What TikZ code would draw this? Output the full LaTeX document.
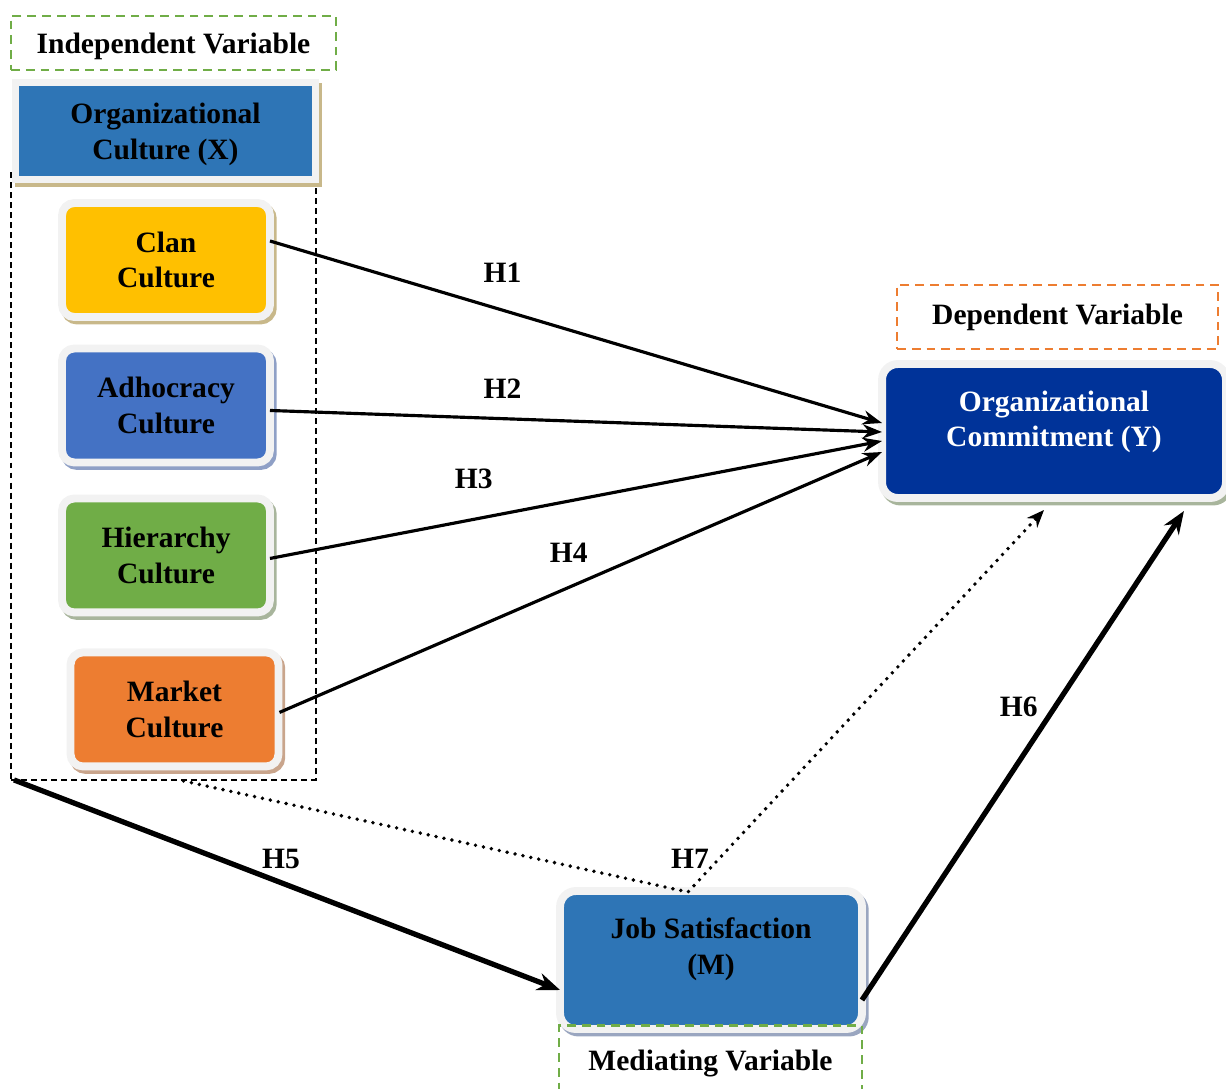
\documentclass[tikz,border=0pt]{standalone}
\usepackage{fontspec}
\setmainfont{Liberation Serif}
\usetikzlibrary{arrows.meta,positioning,calc,shadows}

\definecolor{ocblue}{HTML}{2E75B6}
\definecolor{clanyellow}{HTML}{FFC000}
\definecolor{adhocblue}{HTML}{4472C4}
\definecolor{hiergreen}{HTML}{70AD47}
\definecolor{marketorange}{HTML}{ED7D31}
\definecolor{commitblue}{HTML}{003399}
\definecolor{framegray}{HTML}{F2F2F2}
\definecolor{shtan}{HTML}{C8B88A}
\definecolor{shblue}{HTML}{8FA0C6}
\definecolor{shgreen}{HTML}{A8B59C}
\definecolor{shbrown}{HTML}{C9A58C}
\definecolor{shgray}{HTML}{9AA6C0}

\begin{document}
\begin{tikzpicture}[x=0.02cm, y=-0.02cm,
    every node/.style={font=\bfseries\fontsize{16.8}{20.4}\selectfont, align=center, outer sep=0pt},
    culture/.style 2 args={draw=framegray, fill=#1, line width=4.5pt, rounded corners=7pt,
        minimum width=4.16cm, minimum height=2.28cm,
        general shadow={draw=#2, fill=#2, shadow xshift=1.6pt, shadow yshift=-2pt}},
    varbox/.style={draw=#1, line width=1.4pt, dash pattern=on 5pt off 3.4pt},
    hlabel/.style={inner sep=0pt},
    link/.style={line width=1.8pt, -{Stealth[length=11pt,width=8pt]}},
    strong/.style={line width=3pt, -{Stealth[length=13pt,width=10pt]}},
    dots/.style={line width=2.2pt, line cap=round, dash pattern=on 0pt off 4.6pt,
        -{Stealth[length=10pt,width=8pt]}}]
\useasboundingbox (0,0) rectangle (1226,1088);

% independent side
\node[varbox=hiergreen, minimum width=6.5cm, minimum height=1.08cm, text depth=0pt] (indep) at (173.5,43) {Independent Variable};
\node[draw, line width=1.1pt, dash pattern=on 3.4pt off 2.3pt, minimum width=6.1cm, minimum height=12.2cm] (ivframe) at (163.5,475) {};
\node[draw=framegray, fill=ocblue, line width=4pt, minimum width=6cm, minimum height=1.94cm, text depth=0pt,
    general shadow={draw=shtan, fill=shtan, shadow xshift=1.6pt, shadow yshift=-2pt}] (orgX) at (165.5,131) {Organizational\\Culture (X)};

\node[culture={clanyellow}{shtan}] (clan) at (166,260) {Clan\\Culture};
\node[culture={adhocblue}{shblue}, below=0.63cm of clan] (adhoc) {Adhocracy\\Culture};
\node[culture={hiergreen}{shgreen}, below=0.72cm of adhoc] (hier) {Hierarchy\\Culture};
\node[culture={marketorange}{shbrown}, below=0.8cm of hier, xshift=0.17cm] (market) {Market\\Culture};

% dependent side
\node[varbox=marketorange, minimum width=6.42cm, minimum height=1.28cm] (depvar) at (1057.5,317) {Dependent Variable};
\node[draw=framegray, fill=commitblue, text=white, line width=4.5pt, rounded corners=9pt,
    minimum width=6.88cm, minimum height=2.68cm, text depth=14pt,
    general shadow={draw=shgreen, fill=shgreen, shadow xshift=1.6pt, shadow yshift=-2pt}] (ocY) at (1054,431) {Organizational\\Commitment (Y)};

% mediator
\node[draw=framegray, fill=ocblue, line width=4.5pt, rounded corners=9pt,
    minimum width=6.04cm, minimum height=2.76cm, text depth=16pt,
    general shadow={draw=shgray, fill=shgray, shadow xshift=1.6pt, shadow yshift=-2pt}] (js) at (711,960) {Job Satisfaction\\(M)};
\node[varbox=hiergreen, minimum width=6.06cm, minimum height=1.5cm] (medvar) at (710.5,1063) {Mediating Variable};

% hypotheses
\draw[link] ($(clan.east)+(0,-19)$) -- node[hlabel, pos=0.38, above=16pt] {H1} ($(ocY.west)+(0,-8)$);
\draw[link] ($(adhoc.east)+(0,5)$) -- node[hlabel, pos=0.38, above=11.4pt] {H2} ($(ocY.west)+(0,1)$);
\draw[link] ($(hier.east)+(0,3)$) -- node[hlabel, pos=0.333, above=17.6pt] {H3} ($(ocY.west)+(0,10)$);
\draw[link] ($(market.east)+(1,3)$) -- node[hlabel, pos=0.48, above=14pt] {H4} ($(ocY.west)+(0,21)$);
\draw[strong] ($(ivframe.south west)+(3,0)$) -- node[hlabel, pos=0.489, above=7.8pt] {H5} ($(js.west)+(0,30)$);
\draw[strong] ($(js.east)+(0,40)$) -- node[hlabel, pos=0.6, left=10pt] {H6} ($(ocY.south east)+(-42,13)$);
\draw[dots] ($(ivframe.south)+(20,1)$) -- ($(js.north)+(-23,1)$)
    -- node[hlabel, pos=0.086, left=5.5pt] {H7} ($(ocY.south)+(-10,12)$);
\end{tikzpicture}
\end{document}
